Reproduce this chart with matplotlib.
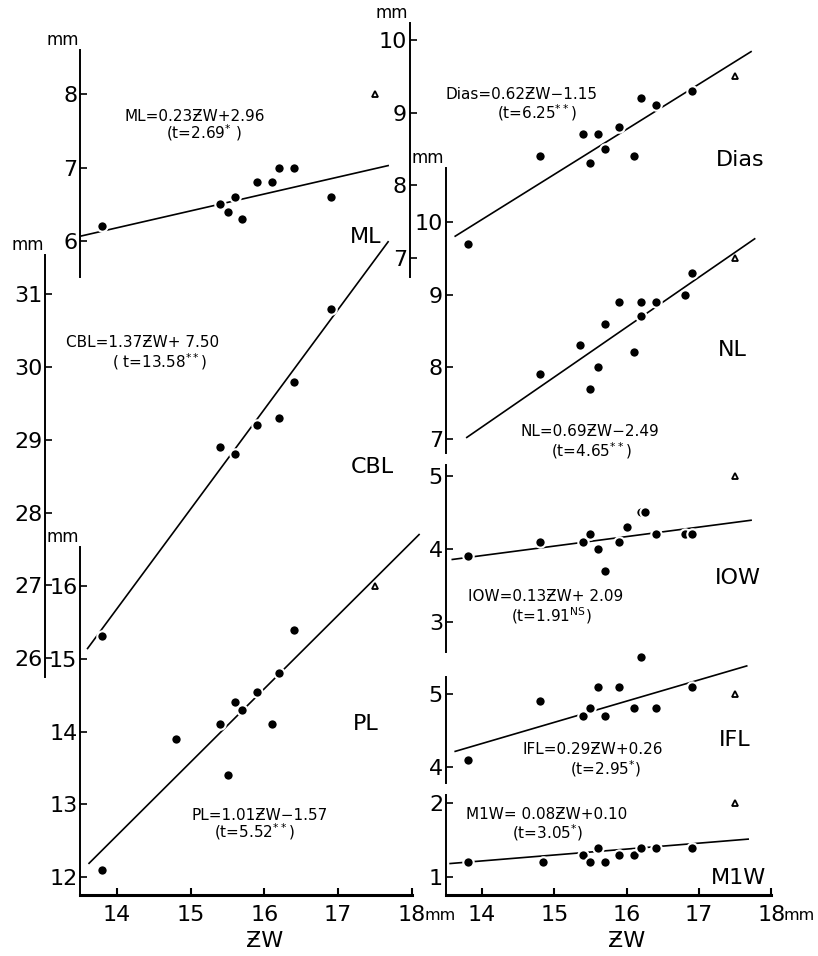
import matplotlib.pyplot as plt
import numpy as np

plt.rcParams['font.family'] = ['DejaVu Sans']
plt.rcParams['mathtext.default'] = 'regular'

ml_zw = [13.8, 15.4, 15.5, 15.6, 15.7, 15.9, 16.1, 16.2, 16.4, 16.9]
ml_val = [6.2, 6.5, 6.4, 6.6, 6.3, 6.8, 6.8, 7.0, 7.0, 6.6]

cbl_zw = [13.8, 15.4, 15.6, 15.9, 16.2, 16.4, 16.9]
cbl_val = [26.3, 28.9, 28.8, 29.2, 29.3, 29.8, 30.8]

pl_zw = [13.8, 14.8, 15.4, 15.5, 15.6, 15.7, 15.9, 16.1, 16.2, 16.4]
pl_val = [12.1, 13.9, 14.1, 13.4, 14.4, 14.3, 14.55, 14.1, 14.8, 15.4]

dias_zw = [13.8, 14.8, 15.4, 15.5, 15.6, 15.7, 15.9, 16.1, 16.2, 16.4, 16.9]
dias_val = [7.2, 8.4, 8.7, 8.3, 8.7, 8.5, 8.8, 8.4, 9.2, 9.1, 9.3]

nl_zw = [14.8, 15.35, 15.5, 15.6, 15.7, 15.9, 16.1, 16.2, 16.2, 16.4, 16.8, 16.9]
nl_val = [7.9, 8.3, 7.7, 8.0, 8.6, 8.9, 8.2, 8.9, 8.7, 8.9, 9.0, 9.3]

iow_zw = [13.8, 14.8, 15.4, 15.5, 15.6, 15.7, 15.9, 16.0, 16.2, 16.25, 16.4, 16.8, 16.9]
iow_val = [3.9, 4.1, 4.1, 4.2, 4.0, 3.7, 4.1, 4.3, 4.5, 4.5, 4.2, 4.2, 4.2]

ifl_zw = [13.8, 14.8, 15.4, 15.5, 15.6, 15.7, 15.9, 16.1, 16.2, 16.4, 16.9]
ifl_val = [4.1, 4.9, 4.7, 4.8, 5.1, 4.7, 5.1, 4.8, 5.5, 4.8, 5.1]

m1w_zw = [13.8, 14.85, 15.4, 15.5, 15.6, 15.7, 15.9, 16.1, 16.2, 16.4, 16.9]
m1w_val = [1.2, 1.2, 1.3, 1.2, 1.4, 1.2, 1.3, 1.3, 1.4, 1.4, 1.4]

# open triangle specimen (ZW = 17.5)
tri_zw = 17.5
tri_val = {'ML': 8.0, 'PL': 16.0, 'Dias': 9.5, 'NL': 9.5, 'IOW': 5.0, 'IFL': 5.0, 'M1W': 2.0}

# regression lines: slope, intercept, and x extent of drawn line
slopes = {'ML': 0.23, 'CBL': 1.37, 'PL': 1.01, 'Dias': 0.62, 'NL': 0.69, 'IOW': 0.13, 'IFL': 0.29, 'M1W': 0.08}
intercepts = {'ML': 2.96, 'CBL': 7.50, 'PL': -1.57, 'Dias': -1.15, 'NL': -2.49, 'IOW': 2.09, 'IFL': 0.26, 'M1W': 0.10}
line_from = {'ML': 13.52, 'CBL': 13.6, 'PL': 13.62, 'Dias': 13.63, 'NL': 13.79, 'IOW': 13.59, 'IFL': 13.63, 'M1W': 13.56}
line_to = {'ML': 17.68, 'CBL': 17.68, 'PL': 18.1, 'Dias': 17.72, 'NL': 17.77, 'IOW': 17.72, 'IFL': 17.66, 'M1W': 17.68}

eq_text = {
    'ML': ('ML=0.23ƵW+2.96', '(t=2.69$^{*}$ )'),
    'CBL': ('CBL=1.37ƵW+ 7.50', '( t=13.58$^{**}$)'),
    'PL': ('PL=1.01ƵW−1.57', '(t=5.52$^{**}$)'),
    'Dias': ('Dias=0.62ƵW−1.15', '(t=6.25$^{**}$)'),
    'NL': ('NL=0.69ƵW−2.49', '(t=4.65$^{**}$)'),
    'IOW': ('IOW=0.13ƵW+ 2.09', '(t=1.91$^{NS}$)'),
    'IFL': ('IFL=0.29ƵW+0.26', '(t=2.95$^{*}$)'),
    'M1W': ('M1W= 0.08ƵW+0.10', '(t=3.05$^{*}$)'),
}

yticks = {'ML': [6, 7, 8], 'CBL': [26, 27, 28, 29, 30, 31], 'PL': [12, 13, 14, 15, 16],
          'Dias': [7, 8, 9, 10], 'NL': [7, 8, 9, 10], 'IOW': [3, 4, 5], 'IFL': [4, 5], 'M1W': [1, 2]}
xticks = [14, 15, 16, 17, 18]

# ---- layout (pixels of the 818x956 figure) ----
W, H = 818, 956
# name: column, top px, bottom px, ylim, spine offset px, is_bottom
layout = {
    'ML':   ('L', 50, 277, (5.51, 8.6), 0, False),
    'CBL':  ('L', 255, 677, (25.74, 31.54), 35, False),
    'PL':   ('L', 547, 895, (11.75, 16.54), 0, True),
    'Dias': ('R', 23, 277, (6.74, 10.23), 36, False),
    'NL':   ('R', 168, 453, (6.81, 10.75), 0, False),
    'IOW':  ('R', 465, 652, (2.59, 5.15), 0, False),
    'IFL':  ('R', 677, 783, (3.78, 5.23), 0, False),
    'M1W':  ('R', 795, 895, (0.76, 2.11), 0, True),
}
cols = {'L': (80.2, 411.7), 'R': (445.8, 771.3)}

# text positions in data coords: (eq line1 xy, eq line2 xy, label xy)
text_pos = {
    'ML':   ((15.06, 7.70), (15.18, 7.48), (17.37, 6.05)),
    'CBL':  ((14.34, 30.34), (14.58, 30.07), (17.46, 28.62)),
    'PL':   ((15.93, 12.85), (15.87, 12.62), (17.37, 14.11)),
    'Dias': ((14.54, 9.25), (14.76, 9.00), (17.57, 8.35)),
    'NL':   ((15.49, 7.11), (15.51, 6.84), (17.46, 8.23)),
    'IOW':  ((14.88, 3.35), (14.96, 3.09), (17.54, 3.60)),
    'IFL':  ((15.53, 4.24), (15.71, 3.98), (17.50, 4.37)),
    'M1W':  ((14.90, 1.85), (14.91, 1.60), (17.54, 0.99)),
}

points = {'ML': (ml_zw, ml_val), 'CBL': (cbl_zw, cbl_val), 'PL': (pl_zw, pl_val),
          'Dias': (dias_zw, dias_val), 'NL': (nl_zw, nl_val), 'IOW': (iow_zw, iow_val),
          'IFL': (ifl_zw, ifl_val), 'M1W': (m1w_zw, m1w_val)}

fig = plt.figure(figsize=(W / 100, H / 100), dpi=100)

for name, (col, top, bot, ylim, offset, is_bottom) in layout.items():
    x0, x1 = cols[col]
    ax = fig.add_axes([x0 / W, 1 - bot / H, (x1 - x0) / W, (bot - top) / H])
    ax.patch.set_visible(False)
    ax.set_xlim(13.5, 18)
    ax.set_ylim(*ylim)
    for s in ['top', 'right']:
        ax.spines[s].set_visible(False)
    ax.spines['left'].set_linewidth(1.4)
    if offset:
        ax.spines['left'].set_position(('outward', offset * 0.72))
    ax.set_yticks(yticks[name])
    ax.set_yticklabels([str(v) for v in yticks[name]])
    ax.tick_params(axis='y', direction='in', length=5, width=1.2, labelsize=16, pad=2)

    if is_bottom:
        ax.spines['bottom'].set_linewidth(2.2)
        ax.set_xticks(xticks)
        ax.set_xticklabels([str(v) for v in xticks])
        ax.tick_params(axis='x', direction='in', length=5, width=1.5, labelsize=16, pad=7)
        ax.annotate('mm', xy=(18, 0), xycoords=('data', 'axes fraction'),
                    xytext=(9, -15), textcoords='offset points',
                    ha='left', va='center', fontsize=11.5)
        ax.annotate('ƵW', xy=(16, 0), xycoords=('data', 'axes fraction'),
                    xytext=(0, -33), textcoords='offset points',
                    ha='center', va='center', fontsize=16)
    else:
        ax.spines['bottom'].set_visible(False)
        ax.set_xticks([])

    # 'mm' unit label above the y spine
    if name in ('ML', 'CBL', 'PL', 'Dias', 'NL'):
        ax.annotate('mm', xy=(0, 1), xycoords='axes fraction',
                    xytext=(-offset * 0.72 - 1, 1), textcoords='offset points',
                    ha='right', va='bottom', fontsize=12)

    xl = np.array([line_from[name], line_to[name]])
    ax.plot(xl, slopes[name] * xl + intercepts[name], color='black', lw=1.2,
            clip_on=False, zorder=2)
    zw, val = points[name]
    ax.plot(zw, val, 'o', ms=7.5, mfc='black', mec='white', mew=1.5,
            clip_on=False, zorder=3)
    if name in tri_val:
        ax.plot(tri_zw, tri_val[name], '^', ms=5, mfc='white', mec='black', mew=1.3,
                clip_on=False, zorder=4)

    (ex1, ey1), (ex2, ey2), (lx, ly) = text_pos[name]
    ax.text(ex1, ey1, eq_text[name][0], ha='center', va='center', fontsize=11)
    ax.text(ex2, ey2, eq_text[name][1], ha='center', va='center', fontsize=11)
    ax.text(lx, ly, name, ha='center', va='center', fontsize=16)

fig.savefig('out.png', dpi=100)
